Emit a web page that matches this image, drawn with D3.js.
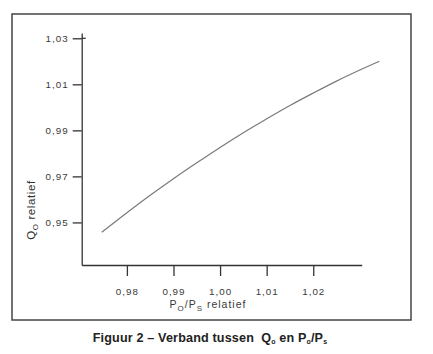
<!DOCTYPE html>
<html>
<head>
<meta charset="utf-8">
<script src="https://cdn.jsdelivr.net/npm/d3@7"></script>
<style>
  body { margin: 0; background: #fff; }
  svg { display: block; }
  .axis text { font-family: "Liberation Sans", Arial, sans-serif; font-size: 9.8px; letter-spacing: 1px; fill: #3a3a3a; }
  .axis line, .axis path { stroke: #333; stroke-width: 1.3; }
</style>
</head>
<body>
<div id="chart"></div>
<script>
"use strict";

var width = 433;
var height = 354;

// relative P_o/P_s and relative Q_o
var pRel = [0.9746, 0.980, 0.985, 0.990, 0.995, 1.000, 1.005, 1.010, 1.015, 1.020, 1.025, 1.030, 1.0342];
var qRel = [0.9457, 0.9542, 0.9618, 0.9690, 0.9759, 0.9826, 0.9890, 0.9950, 1.0008, 1.0062, 1.0114, 1.0162, 1.0200];

var xTicks = [0.98, 0.99, 1.00, 1.01, 1.02];
var yTicks = [0.95, 0.97, 0.99, 1.01, 1.03];

var svg = d3.select("#chart").append("svg")
  .attr("width", width)
  .attr("height", height);

// outer frame
svg.append("rect")
  .attr("x", 12).attr("y", 14)
  .attr("width", 399).attr("height", 306)
  .attr("fill", "none")
  .attr("stroke", "#444")
  .attr("stroke-width", 1.5);

var x = d3.scaleLinear().domain([0.9703, 1.0304]).range([81.7, 361.7]);
var y = d3.scaleLinear().domain([0.9315, 1.0323]).range([265, 33]);

var fmt = function (d) { return d3.format(".2f")(d).replace(".", ","); };

var gx = svg.append("g")
  .attr("class", "axis")
  .attr("transform", "translate(0," + y.range()[0] + ")")
  .call(d3.axisBottom(x).tickValues(xTicks).tickSize(11).tickSizeOuter(0).tickPadding(12).tickFormat(fmt));

var gy = svg.append("g")
  .attr("class", "axis")
  .attr("transform", "translate(" + x.range()[0] + ",0)")
  .call(d3.axisLeft(y).tickValues(yTicks).tickSize(9).tickSizeOuter(0).tickPadding(4).tickFormat(fmt));

// top tick crosses the axis
gy.append("line")
  .attr("x1", 0).attr("x2", 4)
  .attr("y1", y(1.03)).attr("y2", y(1.03))
  .attr("stroke", "#333").attr("stroke-width", 1.3);

// curve
var line = d3.line()
  .x(function (d, i) { return x(pRel[i]); })
  .y(function (d, i) { return y(qRel[i]); })
  .curve(d3.curveMonotoneX);

svg.append("path")
  .datum(pRel)
  .attr("d", line)
  .attr("fill", "none")
  .attr("stroke", "#7a7a7a")
  .attr("stroke-width", 1.2);

// axis titles
var labelFont = "'Liberation Sans', Arial, sans-serif";

var xt = svg.append("text")
  .attr("x", 208).attr("y", 307.5)
  .attr("text-anchor", "middle")
  .attr("font-family", labelFont)
  .attr("font-size", 10.5)
  .attr("letter-spacing", 1)
  .attr("fill", "#3a3a3a");
xt.append("tspan").text("P");
xt.append("tspan").attr("dy", 3).attr("font-size", 8).text("O");
xt.append("tspan").attr("dy", -3).text("/P");
xt.append("tspan").attr("dy", 3).attr("font-size", 8).text("S");
xt.append("tspan").attr("dy", -3).text(" relatief");

var yt = svg.append("text")
  .attr("transform", "translate(35,210) rotate(-90)")
  .attr("text-anchor", "middle")
  .attr("font-family", labelFont)
  .attr("font-size", 11.5)
  .attr("letter-spacing", 0.6)
  .attr("fill", "#333");
yt.append("tspan").text("Q");
yt.append("tspan").attr("dy", 3).attr("font-size", 8).text("O");
yt.append("tspan").attr("dy", -3).text(" relatief");

// caption
var cap = svg.append("text")
  .attr("x", 210).attr("y", 342)
  .attr("text-anchor", "middle")
  .attr("font-family", "'Liberation Sans', Arial, sans-serif")
  .attr("font-weight", "bold")
  .attr("font-size", 12.6)
  .attr("letter-spacing", 0.15)
  .attr("fill", "#222");
cap.append("tspan").text("Figuur 2 \u2013 Verband tussen\u00a0 Q");
cap.append("tspan").attr("dy", 2).attr("font-size", 7).text("o");
cap.append("tspan").attr("dy", -2).text(" en P");
cap.append("tspan").attr("dy", 2).attr("font-size", 7).text("o");
cap.append("tspan").attr("dy", -2).text("/P");
cap.append("tspan").attr("dy", 2).attr("font-size", 7).text("s");
</script>
</body>
</html>
